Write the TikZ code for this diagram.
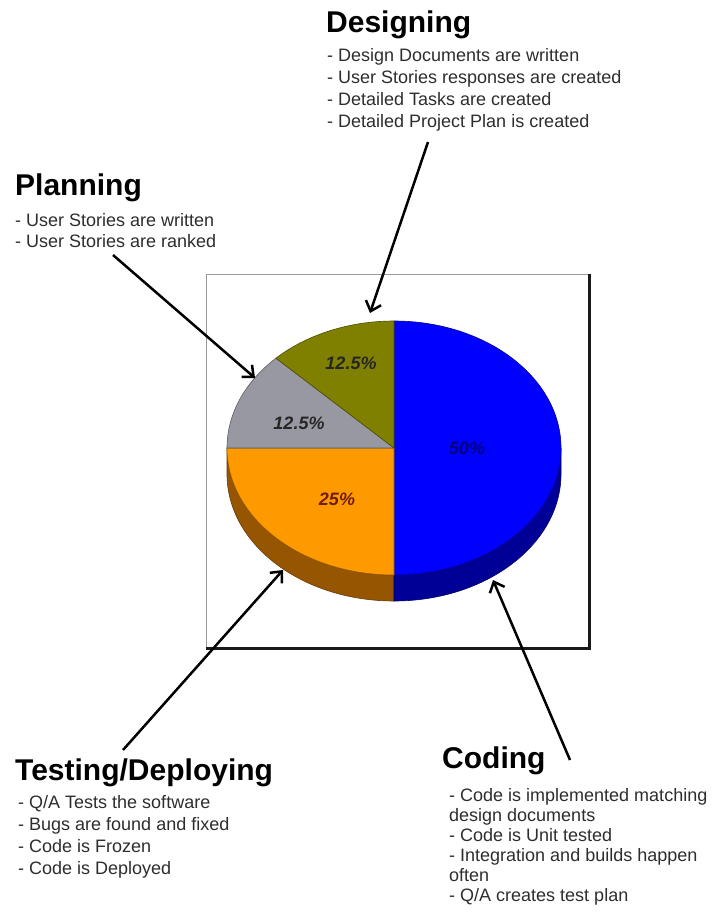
\documentclass[tikz,border=0pt]{standalone}
\usepackage{fontspec}
\setmainfont{Liberation Sans}
\usetikzlibrary{arrows.meta,calc}

\definecolor{sliceBlue}{RGB}{0,0,255}
\definecolor{sliceBlueSide}{RGB}{0,0,150}
\definecolor{sliceOrange}{RGB}{255,153,0}
\definecolor{sliceOrangeSide}{RGB}{150,85,0}
\definecolor{sliceGray}{RGB}{152,152,162}
\definecolor{sliceOlive}{RGB}{128,128,0}
\definecolor{bodyText}{RGB}{45,45,45}

\begin{document}
\begin{tikzpicture}[x=1pt,y=-1pt,
  heading/.style={anchor=base west, inner sep=0pt, font=\fontsize{30}{30}\selectfont\bfseries},
  bullet/.style={anchor=base west, inner sep=0pt, text=bodyText, font=\fontsize{18}{18}\selectfont},
  pct/.style={inner sep=0pt, font=\fontsize{18}{18}\selectfont\bfseries\itshape},
  pointer/.style={line width=2.5pt, -{Straight Barb[length=9pt,width=16pt]}},
  rim/.style={line width=0.6pt},
  ell/.style={x radius=167pt, y radius=127pt},
]
\useasboundingbox (0,0) rectangle (714,913);

% chart frame with a heavier lower-right edge
\node[draw=black!40, line width=0.8pt, minimum width=383pt, minimum height=374pt, inner sep=0pt] (frame) at (397.5,461) {};
\draw[black!90, line width=2.4pt] (frame.north east) -- (frame.south east) -- (frame.south west);

% pie: centre of the top face, radii 167 x 127, thickness 26
\coordinate (pc) at (394,448);

% side walls
\filldraw[fill=sliceOrangeSide, draw=sliceOrangeSide!70!black, rim]
  (pc) ++(180:167pt and 127pt) arc[ell, start angle=180, end angle=270]
  -- ++(0,26) arc[ell, start angle=270, end angle=180] -- cycle;
\filldraw[fill=sliceBlueSide, draw=sliceBlueSide!70!black, rim]
  (pc) ++(270:167pt and 127pt) arc[ell, start angle=270, end angle=360]
  -- ++(0,26) arc[ell, start angle=360, end angle=270] -- cycle;

% top face slices
\filldraw[fill=sliceBlue, draw=sliceBlue!60!black, rim]
  (pc) -- ++(-90:167pt and 127pt) arc[ell, start angle=-90, end angle=90] -- cycle;
\filldraw[fill=sliceOrange, draw=sliceOrange!60!black, rim]
  (pc) -- ++(180:167pt and 127pt) arc[ell, start angle=180, end angle=270] -- cycle;
\filldraw[fill=sliceGray, draw=sliceGray!60!black, rim]
  (pc) -- ++(135:167pt and 127pt) arc[ell, start angle=135, end angle=180] -- cycle;
\filldraw[fill=sliceOlive, draw=sliceOlive!60!black, rim]
  (pc) -- ++(90:167pt and 127pt) arc[ell, start angle=90, end angle=135] -- cycle;

% slice values
\node[pct, text=black!85] (pOlive) at (351,363) {12.5\%};
\node[pct, text=black!85] (pGray) at (299,423) {12.5\%};
\node[pct, text={rgb,255:red,110;green,30;blue,10}] (pOrange) at (337,499) {25\%};
\node[pct, text={rgb,255:red,0;green,0;blue,125}] (pBlue) at (467,448) {50\%};

% phase descriptions
\node[heading] (designing) at (326,32) {Designing};
\foreach \t [count=\i] in {- Design Documents are written, - User Stories responses are created,
  - Detailed Tasks are created, - Detailed Project Plan is created}
  \node[bullet] (des-\i) at (327,{39+22*\i}) {\t};

\node[heading] (planning) at (15,195) {Planning};
\foreach \t [count=\i] in {- User Stories are written, - User Stories are ranked}
  \node[bullet] (plan-\i) at (15,{205+21*\i}) {\t};

\node[heading] (testing) at (15,780) {Testing/Deploying};
\foreach \t [count=\i] in {- Q/A Tests the software, - Bugs are found and fixed,
  - Code is Frozen, - Code is Deployed}
  \node[bullet] (test-\i) at (18,{786+22*\i}) {\t};

\node[heading] (coding) at (442,768) {Coding};
\foreach \t [count=\i] in {- Code is implemented matching, design documents, - Code is Unit tested,
  - Integration and builds happen, often, - Q/A creates test plan}
  \node[bullet] (code-\i) at (449,{781+20*\i}) {\t};

% pointers from the descriptions to the slices
\coordinate (desFrom) at (428,142);  \coordinate (desTo) at (370,313);
\coordinate (planFrom) at (113,255); \coordinate (planTo) at (255,378);
\coordinate (testFrom) at (123,750); \coordinate (testTo) at (283,570);
\coordinate (codeFrom) at (570,760); \coordinate (codeTo) at (493,580);
\draw[pointer] (desFrom) -- (desTo);
\draw[pointer] (planFrom) -- (planTo);
\draw[pointer] (testFrom) -- (testTo);
\draw[pointer] (codeFrom) -- (codeTo);
\end{tikzpicture}
\end{document}
